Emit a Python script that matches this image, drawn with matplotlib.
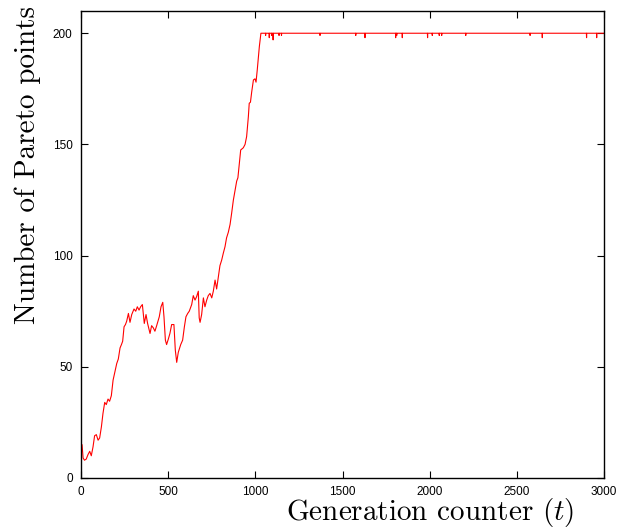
import matplotlib

matplotlib.use("Agg")
import matplotlib.pyplot as plt
import numpy as np

plt.rcParams.update(
    {
        "font.family": "Liberation Sans",
        "mathtext.fontset": "cm",
        "axes.unicode_minus": False,
    }
)

# rising phase (generation, number of Pareto points)
RISE_GEN = [0, 6, 12, 20, 30, 40, 50, 59, 69, 78, 88, 98, 107, 117, 126, 136,
            145, 155, 164, 174, 184, 195, 205, 214, 224, 232, 239, 247, 255,
            262, 272, 281, 291, 304, 314, 323, 333, 342, 352, 363, 373, 382,
            396, 405, 415, 424, 434, 449, 459, 469, 476, 484, 491, 501, 510,
            520, 533, 541, 549, 558, 572, 583, 593, 602, 612, 621, 635, 644,
            654, 663, 673, 678, 683, 692, 702, 711, 721, 730, 740, 750, 759,
            769, 778, 788, 797, 807, 816, 826, 835, 845, 855, 864, 874, 883,
            893, 900, 908, 916, 931, 941, 950, 960, 965, 972, 979, 989, 998,
            1004, 1011, 1023, 1032]
RISE_VAL = [13, 15, 9, 8, 8.5, 10.5, 12, 10, 14, 19, 19.5, 17, 18, 23, 29, 34,
            33, 35.5, 34.5, 37, 44, 48, 51.5, 53.5, 58.5, 60, 61.5, 68, 69,
            70.5, 74, 70, 73.5, 76, 75, 77, 75.5, 77, 78, 69.5, 73.5, 69.5,
            65, 68.5, 67.5, 66, 68.5, 72.5, 77, 79, 72.5, 62, 60, 62.5, 65,
            69, 69, 57.5, 52, 56.5, 60, 62, 68, 72.5, 74, 75, 78, 82,
            80, 81.5, 84, 72, 70, 73.5, 81, 77, 80, 82, 83, 81, 84,
            89, 85, 90.5, 95.5, 98, 101, 104, 108, 110.5, 114, 119, 125, 129,
            133.5, 135, 141.5, 147.5, 148.5, 150, 153.5, 162.5, 168.5, 169, 173.5, 179, 179.5,
            178, 183.5, 194, 200]

# plateau at the population size, with short one-generation dips
PLATEAU = 200
LAST_GEN = 3000
DIP_GEN = [1059, 1080, 1093, 1102, 1136, 1150, 1371, 1576, 1629, 1805, 1811,
           1843, 1988, 2015, 2055, 2069, 2207, 2576, 2646, 2900, 2958]
DIP_VAL = [199, 198, 199, 197, 199, 199, 199, 199, 198, 198, 199,
           198, 198, 199, 199, 199, 199, 199, 198, 198, 198]

gen = list(RISE_GEN)
val = list(RISE_VAL)
for g, v in zip(DIP_GEN, DIP_VAL):
    gen += [g - 1, g, g + 1]
    val += [PLATEAU, v, PLATEAU]
gen.append(LAST_GEN)
val.append(PLATEAU)

fig = plt.figure(figsize=(6.23, 5.30), dpi=100)
ax = fig.add_axes([81 / 623, 1 - 478 / 530, 523 / 623, 467 / 530])

ax.plot(gen, val, color="red", linewidth=0.8)

ax.set_xlim(0, 3000)
ax.set_ylim(0, 210)
ax.set_xticks(np.arange(0, 3001, 500))
ax.set_yticks(np.arange(0, 201, 50))
ax.tick_params(direction="in", top=True, right=True, length=5, width=0.8,
               labelsize=8.5)
ax.tick_params(axis="x", pad=6)
ax.tick_params(axis="y", pad=6)
for s in ax.spines.values():
    s.set_linewidth(1.0)

ax.set_xlabel("Generation counter $(t)$", fontfamily="cmr10", fontsize=21)
ax.xaxis.set_label_coords(0.667, -0.073)
ax.xaxis.label.set_va("center")
ax.set_ylabel("Number of Pareto points", fontfamily="cmr10", fontsize=21)
ax.yaxis.set_label_coords(-0.101, 0.67)
ax.yaxis.label.set_va("center")

fig.savefig("out.png", dpi=100)
